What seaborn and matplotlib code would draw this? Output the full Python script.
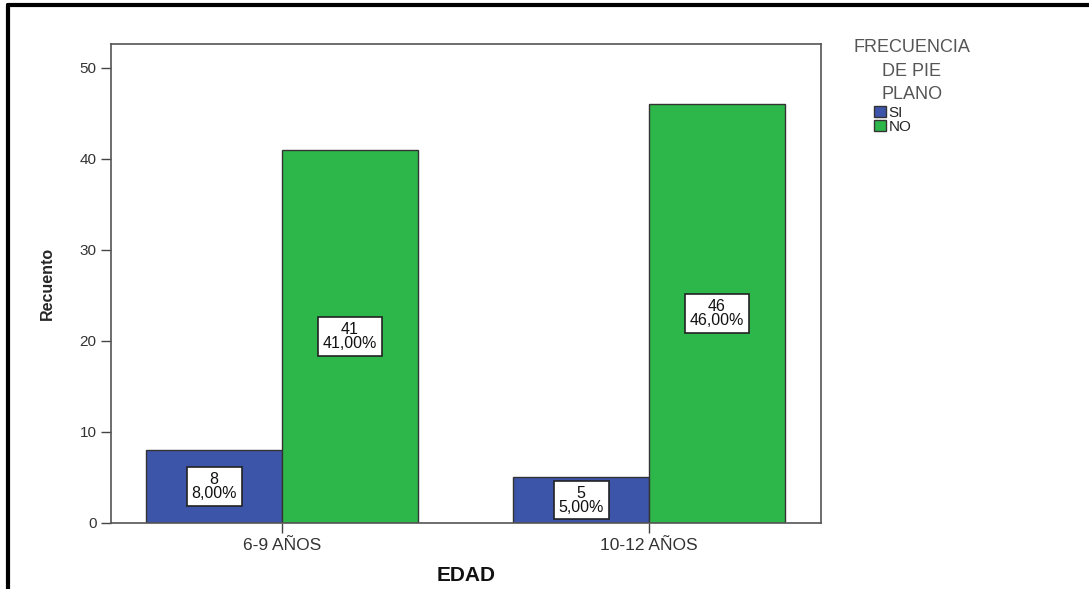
import matplotlib
matplotlib.use("Agg")
import matplotlib.pyplot as plt
from matplotlib.lines import Line2D
from matplotlib.patches import Patch
import seaborn as sns
import pandas as pd

# datos
edades = ["6-9 AÑOS", "10-12 AÑOS"]
frecuencia = ["SI", "NO"]
recuento_si = [8, 5]
recuento_no = [41, 46]
porcentaje_si = ["8,00%", "5,00%"]
porcentaje_no = ["41,00%", "46,00%"]
y_ticks = [0, 10, 20, 30, 40, 50]

colores = {"SI": "#3D55A8", "NO": "#2DB74A"}

df = pd.DataFrame({
    "EDAD": edades * 2,
    "FRECUENCIA": ["SI"] * len(edades) + ["NO"] * len(edades),
    "Recuento": recuento_si + recuento_no,
    "Etiqueta": porcentaje_si + porcentaje_no,
})

sns.set_theme(style="white")
plt.rcParams['font.family'] = ['Liberation Sans', 'DejaVu Sans']

fig = plt.figure(figsize=(10.89, 5.89), dpi=100)
ax = fig.add_axes([111 / 1089, 1 - 523 / 589, 710 / 1089, 479 / 589])

sns.barplot(data=df, x="EDAD", y="Recuento", hue="FRECUENCIA", hue_order=frecuencia,
            order=edades, palette=colores, width=0.74, edgecolor="#333333",
            linewidth=1, saturation=1, ax=ax, legend=False)

# etiquetas dentro de las barras
for container, pct in zip(ax.containers, [porcentaje_si, porcentaje_no]):
    for bar, p in zip(container, pct):
        h = bar.get_height()
        ax.text(bar.get_x() + bar.get_width() / 2, h / 2, f"{int(round(h))}\n{p}",
                ha="center", va="center", fontsize=11.5, linespacing=0.9, color="#111111",
                bbox=dict(boxstyle="square,pad=0.3", facecolor="white",
                          edgecolor="#222222", linewidth=1.2))

ax.set_ylim(0, 52.6)
ax.set_xlim(-0.466, 1.469)
ax.set_yticks(y_ticks)
ax.tick_params(axis="both", which="both", direction="out", length=7, width=1,
               color="#444444", labelsize=11, labelcolor="#333333", left=True, bottom=True)
ax.tick_params(axis="x", labelsize=12.5)
for s in ax.spines.values():
    s.set_color("#555555")
    s.set_linewidth(1.2)

ax.set_ylabel("Recuento", fontsize=11.5, fontweight="bold", labelpad=18)
ax.set_xlabel("EDAD", fontsize=15, fontweight="bold", labelpad=10, color="#111111")

# leyenda
fig.text(912 / 1089, 1 - 39 / 589, "FRECUENCIA\nDE PIE\nPLANO", ha="center", va="top",
         fontsize=13, color="#555555", multialignment="center", linespacing=1.5)
handles = [Patch(facecolor=colores[f], edgecolor="#333333", label=f) for f in frecuencia]
fig.legend(handles=handles, loc="upper left", bbox_to_anchor=(874 / 1089, 1 - 106 / 589),
           frameon=False, fontsize=11, handlelength=0.8, handleheight=0.7,
           handletextpad=0.15, labelspacing=0.0, borderpad=0, borderaxespad=0)

# marco exterior
fig.add_artist(Line2D([8 / 1089, 8 / 1089], [0, 1 - 5 / 589], color="black", linewidth=3,
                      transform=fig.transFigure))
fig.add_artist(Line2D([8 / 1089, 1], [1 - 5 / 589, 1 - 5 / 589], color="black", linewidth=3,
                      transform=fig.transFigure))

fig.savefig("out.png", dpi=100)
